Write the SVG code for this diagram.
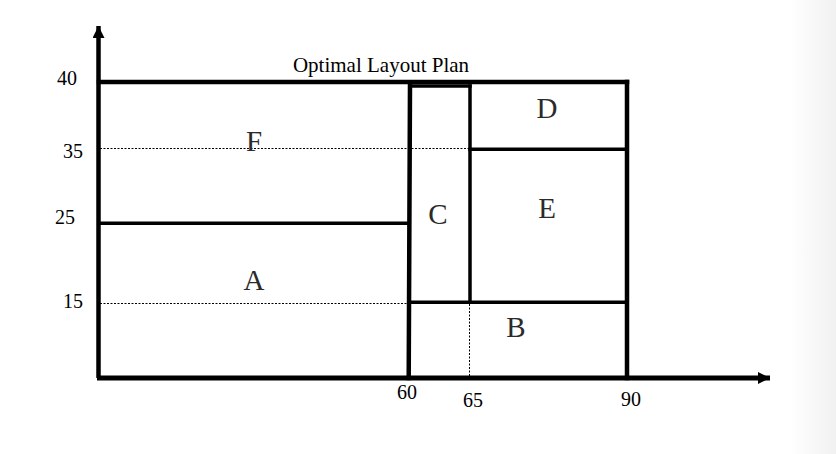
<svg xmlns="http://www.w3.org/2000/svg" width="836" height="454" viewBox="0 0 836 454">
  <defs>
    <linearGradient id="edge" x1="0" y1="0" x2="1" y2="0">
      <stop offset="0" stop-color="#ffffff"/>
      <stop offset="1" stop-color="#f1f1f1"/>
    </linearGradient>
    <marker id="arr" viewBox="0 0 12 12" refX="12" refY="6" markerWidth="12" markerHeight="12" markerUnits="userSpaceOnUse" orient="auto">
      <path d="M0,0 L12,6 L0,12 Z" fill="#000"/>
    </marker>
  </defs>
  <style>
    .num { font-family: "Liberation Serif", "Times New Roman", serif; font-size: 20px; fill: #000; text-anchor: middle; }
    .ttl { font-family: "Liberation Serif", "Times New Roman", serif; font-size: 21px; fill: #000; text-anchor: middle; }
    .lbl { font-family: "Liberation Serif", "Times New Roman", serif; font-size: 29px; fill: #2a2a2a; text-anchor: middle; }
    .thick { stroke: #000; stroke-width: 4.5; fill: none; stroke-linecap: square; }
    .mid { stroke: #000; stroke-width: 3.5; fill: none; stroke-linecap: square; }
    .dot { stroke: #000; stroke-width: 1; fill: none; stroke-dasharray: 2 1.5; }
  </style>
  <rect x="0" y="0" width="836" height="454" fill="#ffffff"/>
  <rect x="790" y="0" width="46" height="454" fill="url(#edge)"/>

  <g id="axes">
    <line x1="98.5" y1="378" x2="98.5" y2="26" stroke="#000" stroke-width="4.5" marker-end="url(#arr)"/>
    <line x1="97" y1="378" x2="770" y2="378" stroke="#000" stroke-width="5" marker-end="url(#arr)"/>
  </g>

  <g id="axis-labels">
    <text class="num" x="67" y="85">40</text>
    <text class="num" x="73" y="158">35</text>
    <text class="num" x="65" y="224">25</text>
    <text class="num" x="73" y="308">15</text>
    <text class="num" x="407" y="399">60</text>
    <text class="num" x="473" y="407">65</text>
    <text class="num" x="631" y="406">90</text>
  </g>

  <text id="title" class="ttl" x="381" y="72">Optimal Layout Plan</text>

  <g id="guides">
    <line class="dot" x1="100" y1="148.5" x2="470" y2="148.5"/>
    <line class="dot" x1="100" y1="303.5" x2="409" y2="303.5"/>
    <line class="dot" x1="469.5" y1="304" x2="469.5" y2="376"/>
  </g>

  <g id="F">
    <line class="thick" x1="99" y1="82" x2="627" y2="82"/>
    <text class="lbl" x="254" y="151">F</text>
  </g>
  <g id="A">
    <line class="mid" x1="99" y1="223.3" x2="408.5" y2="223.3"/>
    <text class="lbl" x="254" y="290">A</text>
  </g>
  <g id="C">
    <line class="thick" x1="410" y1="83" x2="408.7" y2="378"/>
    <line class="mid" x1="410" y1="86" x2="470" y2="86"/>
    <line class="mid" x1="470" y1="86" x2="470" y2="302"/>
    <text class="lbl" x="438" y="224">C</text>
  </g>
  <g id="D">
    <line class="thick" x1="627" y1="82" x2="627" y2="378"/>
    <line class="mid" x1="470" y1="149.3" x2="627" y2="149.3"/>
    <text class="lbl" x="547" y="118">D</text>
  </g>
  <g id="E">
    <text class="lbl" x="547" y="218">E</text>
  </g>
  <g id="B">
    <line class="mid" x1="409" y1="302.3" x2="627" y2="302.3"/>
    <text class="lbl" x="516" y="337">B</text>
  </g>
</svg>
